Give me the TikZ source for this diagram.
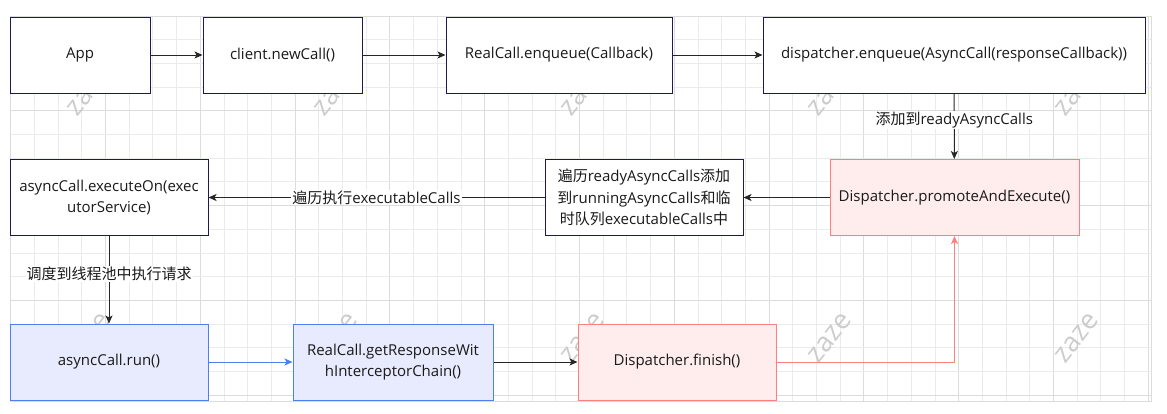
\documentclass[tikz,border=0pt]{standalone}
\usepackage{fontspec}
\setmainfont{Open Sans}
\newfontfamily\cjk{Noto Sans CJK SC}
\usetikzlibrary{arrows.meta,positioning}
\definecolor{navyline}{HTML}{1B1B4D}
\definecolor{redline}{HTML}{FF7F7F}
\definecolor{redfill}{HTML}{FFECEC}
\definecolor{blueline}{HTML}{4C7FF0}
\definecolor{bluefill}{HTML}{E8EBFD}
\definecolor{gridminor}{HTML}{EBEBEB}
\definecolor{gridmajor}{HTML}{DCDCDC}
\definecolor{wmgray}{HTML}{CCCCCC}
\definecolor{txt}{HTML}{1A1A1A}

\begin{document}
\begin{tikzpicture}[
    x=1pt, y=-1pt,
    box/.style={draw=navyline, fill=white, line width=1pt, minimum height=76pt, inner sep=0pt, align=center, text=txt, font=\fontsize{15}{21.5}\selectfont},
    redbox/.style={box, draw=redline, fill=redfill},
    bluebox/.style={box, draw=blueline, fill=bluefill},
    flow/.style={-{Stealth[length=8pt,width=7pt,inset=2pt]}, line width=1pt, draw=black!85},
    lbl/.style={fill=white, inner sep=1pt, text=txt, font=\fontsize{15}{21.5}\selectfont},
    wmark/.style={text=wmgray, font=\fontsize{27}{27}\selectfont, rotate=52}
]
    \useasboundingbox (0,0) rectangle (1167,413);

    % Grid
    \begin{scope}
        \clip (10.5,16) rectangle (1151,401);
        \foreach \i in {0,...,48} {
            \pgfmathsetmacro{\gx}{10.7+\i*23.7}
            \pgfmathparse{mod(\i,4)==0 ? "gridmajor" : "gridminor"}
            \draw[\pgfmathresult, line width=1pt] (\gx,16) -- (\gx,401);
        }
        \foreach \j in {0,...,16} {
            \pgfmathsetmacro{\gy}{16+\j*23.7}
            \pgfmathparse{mod(\j,4)==0 ? "gridmajor" : "gridminor"}
            \draw[\pgfmathresult, line width=1pt] (10.5,\gy) -- (1151,\gy);
        }
    \end{scope}
    \draw[gridmajor, line width=1pt] (10.5,16) rectangle (1151,401);

    % Watermarks
    \foreach \x in {89,336,583,830,1077} {
        \foreach \y in {91,338} {
            \node [wmark] (wm-\x-\y) at (\x,\y) {zaze};
        }
    }

    % Top row
    \node [box, minimum width=140pt] (app) at (80,55) {App};
    \node [box, minimum width=159pt] (newcall) at (282.5,55) {client.newCall()};
    \node [box, minimum width=226pt] (enqueue) at (559,55) {RealCall.enqueue(Callback)};
    \node [box, minimum width=382pt] (dispenq) at (954,55) {dispatcher.enqueue(AsyncCall(responseCallback))};

    % Middle row
    \node [redbox, minimum width=249pt] (promote) at (954.5,197.5) {Dispatcher.promoteAndExecute()};
    \node [box, minimum width=198pt] (ready) at (644,197.5) {{\cjk 遍历}readyAsyncCalls{\cjk 添加}\\{\cjk 到}runningAsyncCalls{\cjk 和临}\\{\cjk 时队列}executableCalls{\cjk 中}};
    \node [box, minimum width=198pt] (execon) at (109,197.5) {asyncCall.executeOn(exec\\utorService)};

    % Bottom row
    \node [bluebox, minimum width=198pt] (run) at (109,362) {asyncCall.run()};
    \node [bluebox, minimum width=200pt] (chain) at (393,362) {RealCall.getResponseWit\\hInterceptorChain()};
    \node [redbox, minimum width=198pt] (finish) at (677,362) {Dispatcher.finish()};

    % Connectors
    \draw [flow] (app) -- (newcall);
    \draw [flow] (newcall) -- (enqueue);
    \draw [flow] (enqueue) -- (dispenq);
    \draw [flow] (dispenq) -- node [lbl, pos=0.41] {{\cjk 添加到}readyAsyncCalls} (promote);
    \draw [flow] (promote) -- (ready);
    \draw [flow] (ready) -- node [lbl] {{\cjk 遍历执行}executableCalls} (execon);
    \draw [flow] (execon) -- node [lbl, pos=0.43] {\cjk 调度到线程池中执行请求} (run);
    \draw [flow, draw=blueline] (run) -- (chain);
    \draw [flow] (chain) -- (finish);
    \draw [flow, draw=redline] (finish.east) -| (promote.south);
\end{tikzpicture}
\end{document}
